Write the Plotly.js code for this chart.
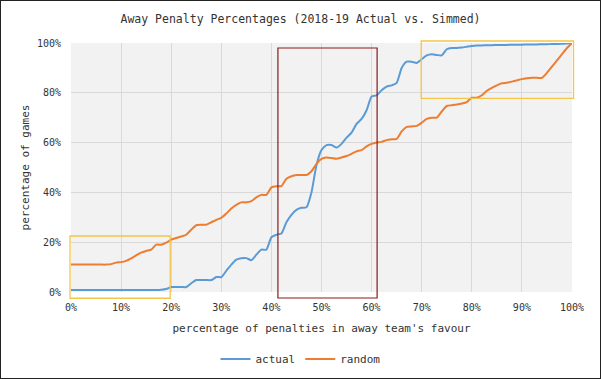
<!DOCTYPE html>
<html>
<head>
<meta charset="utf-8">
<script src="https://cdn.plot.ly/plotly-3.0.1.min.js"></script>
<style>
  html, body { margin: 0; padding: 0; background: #fff; }
  #wrap { position: relative; width: 601px; height: 379px; }
  #chart { width: 601px; height: 379px; }
  #frame { position: absolute; left: 0; top: 0; width: 599px; height: 377px; border: 1px solid #222; pointer-events: none; }
</style>
</head>
<body>
<div id="wrap"><div id="chart"></div><div id="frame"></div></div>
<script>
const pctPenalties = [0,1,2,3,4,5,6,7,8,9,10,11,12,13,14,15,16,17,18,19,20,21,22,23,24,25,26,27,28,29,30,31,32,33,34,35,36,37,38,39,40,41,42,43,44,45,46,47,48,49,50,51,52,53,54,55,56,57,58,59,60,61,62,63,64,65,66,67,68,69,70,71,72,73,74,75,76,77,78,79,80,81,82,83,84,85,86,87,88,89,90,91,92,93,94,95,96,97,98,99,100];

const actual = [0.8,0.8,0.8,0.8,0.8,0.8,0.8,0.8,0.8,0.8,0.8,0.8,0.8,0.8,0.8,0.8,0.8,0.8,0.9,1.2,
  2,2,2,2,3.5,4.8,4.8,4.8,4.8,6,6,8.5,11,13,13.6,13.6,12.8,15,17,17,
  22,23,23.5,28,31,33,33.8,34,40,51,57,59,59,58,59.5,62,64,67.5,69.5,73,
  78.5,79,81,82.5,83,84,90,92.5,92.5,92,93.5,95,95.5,95.2,95,97.5,98,98,98.2,98.5,
  98.8,99,99,99.1,99.1,99.2,99.2,99.2,99.3,99.3,99.3,99.4,99.4,99.4,99.5,99.5,99.6,99.6,99.7,99.8,100];

const random = [11,11,11,11,11,11,11,11,11.2,11.8,12,12.5,13.5,14.7,15.8,16.5,17,19,19,19.8,
  21,21.7,22.3,23,25,26.8,27,27,28,29,29.8,31.5,33.5,35,36,36,36.5,38,39,39,
  42,42.5,42.5,45.5,46.5,47,47,47,48.5,51.5,53.5,54,53.8,53.5,54,54.6,55.5,56.5,57,58.5,
  59.5,60,60.3,61,61.3,61.5,64.5,66.3,66.5,66.7,68,69.5,70,70,72.5,74.7,75,75.3,75.7,76.3,
  78,78,79,80.8,82,83,83.8,84,84.5,85,85.5,85.8,86,86,86,88,90.5,93,95.5,98,100];

const xTickVals = [0,10,20,30,40,50,60,70,80,90,100];
const xTickText = ['0%','10%','20%','30%','40%','50%','60%','70%','80%','90%','100%'];
const yTickVals = [0,20,40,60,80,100];
const yTickText = ['0%','20%','40%','60%','80%','100%'];

const seriesNames = ['actual', 'random'];
const seriesColors = ['#5b9bd5', '#ed7d31'];
const fontMono = '"DejaVu Sans Mono", "Liberation Mono", monospace';

const traces = [actual, random].map((ys, i) => ({
  x: pctPenalties, y: ys, name: seriesNames[i], type: 'scatter', mode: 'lines',
  line: {color: seriesColors[i], width: 2, shape: 'spline', smoothing: 0.6},
  hoverinfo: 'skip'
}));

function box(x0, x1, y0, y1, color, w) {
  return {type: 'rect', xref: 'paper', yref: 'paper', x0: x0/100, x1: x1/100, y0: y0/100, y1: y1/100,
    line: {color: color, width: w}, fillcolor: 'rgba(0,0,0,0)', layer: 'above'};
}

const layout = {
  width: 601, height: 379,
  margin: {l: 71, r: 29, t: 43, b: 87, autoexpand: false},
  paper_bgcolor: '#ffffff', plot_bgcolor: '#f2f2f2',
  font: {family: fontMono, size: 10, color: '#333333'},
  title: {text: 'Away Penalty Percentages (2018-19 Actual vs. Simmed)', font: {family: fontMono, size: 11.5, color: '#333333'},
    x: 0.5, xanchor: 'center', y: 1 - 19/379, yanchor: 'middle', yref: 'container'},
  xaxis: {range: [0, 100], tickmode: 'array', tickvals: xTickVals, ticktext: xTickText, automargin: false,
    showgrid: true, gridcolor: '#d9d9d9', gridwidth: 1, zeroline: false, showline: false,
    ticks: 'outside', ticklen: 6, tickcolor: 'rgba(0,0,0,0)', tickfont: {size: 10, color: '#333'},
    title: {text: "percentage of penalties in away team's favour", font: {size: 11, color: '#333'}, standoff: 12}},
  yaxis: {range: [0, 100], tickmode: 'array', tickvals: yTickVals, ticktext: yTickText, automargin: false,
    showgrid: true, gridcolor: '#d9d9d9', gridwidth: 1, zeroline: false, showline: false,
    ticks: 'outside', ticklen: 7, tickcolor: 'rgba(0,0,0,0)', tickfont: {size: 10, color: '#333'},
    title: {text: 'percentage of games', font: {size: 11, color: '#333'}, standoff: 5}},
  legend: {orientation: 'h', x: 0.5, xanchor: 'center', xref: 'container', y: 1 - 359/379, yanchor: 'middle', yref: 'container',
    font: {size: 11, color: '#333'}, bgcolor: 'rgba(0,0,0,0)'},
  shapes: [
    box(-0.2, 19.8, -2.5, 22.5, '#f5c54a', 1.3),
    box(41.3, 61.1, -2.4, 98, '#8b1a1a', 1.2),
    box(69.9, 100.3, 77.8, 100.8, '#f5c54a', 1.3)
  ],
  showlegend: true
};

Plotly.newPlot('chart', traces, layout, {displayModeBar: false, staticPlot: true});
</script>
</body>
</html>
